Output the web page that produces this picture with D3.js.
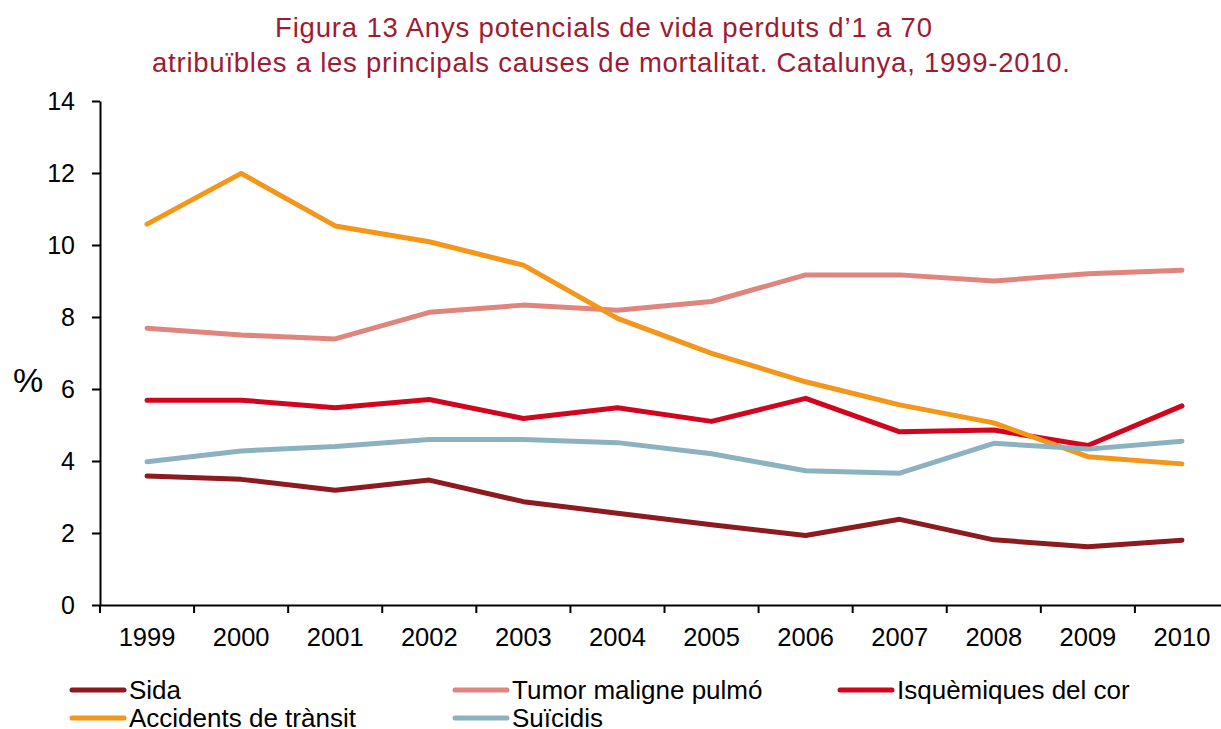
<!DOCTYPE html>
<html>
<head>
<meta charset="utf-8">
<script src="https://cdn.jsdelivr.net/npm/d3@7"></script>
<style>
  body { margin: 0; background: #fff; }
  svg { font-family: "Liberation Sans", Arial, sans-serif; }
</style>
</head>
<body>
<div id="chart"></div>
<script>
// dades
let anys = ["1999","2000","2001","2002","2003","2004","2005","2006","2007","2008","2009","2010"];
let sida      = [3.58, 3.49, 3.19, 3.47, 2.87, 2.55, 2.23, 1.93, 2.38, 1.81, 1.62, 1.80];
let tumor     = [7.69, 7.50, 7.39, 8.13, 8.33, 8.19, 8.43, 9.17, 9.17, 9.00, 9.20, 9.30];
let isquem    = [5.69, 5.69, 5.48, 5.71, 5.18, 5.48, 5.10, 5.74, 4.81, 4.86, 4.43, 5.53];
let accidents = [10.58, 11.99, 10.53, 10.09, 9.44, 7.96, 6.99, 6.20, 5.56, 5.06, 4.12, 3.92];
let suicidis  = [3.98, 4.28, 4.40, 4.60, 4.60, 4.51, 4.20, 3.73, 3.66, 4.49, 4.33, 4.55];
let yTicks = [0, 2, 4, 6, 8, 10, 12, 14];

let series = [
    {nom:"Sida",                  valors:sida,      color:"#8C1A1E"},
    {nom:"Tumor maligne pulmó",   valors:tumor,     color:"#E0857D"},
    {nom:"Isquèmiques del cor",   valors:isquem,    color:"#D2051F"},
    {nom:"Accidents de trànsit",  valors:accidents, color:"#F39619"},
    {nom:"Suïcidis",              valors:suicidis,  color:"#8CB2C0"}
];

let larg = 1221;
let alt = 729;

let canvas = d3.select("#chart")
                .append("svg")
                .attr("width", larg)
                .attr("height", alt);

// titol
let titol = canvas.append("g")
                .attr("fill", "#9E1B32")
                .style("font-size", "27.5px");
titol.append("text").attr("x", 275).attr("y", 37)
        .attr("textLength", 657).attr("lengthAdjust", "spacing")
        .text("Figura 13 Anys potencials de vida perduts d’1 a 70");
titol.append("text").attr("x", 152).attr("y", 72)
        .attr("textLength", 918).attr("lengthAdjust", "spacing")
        .text("atribuïbles a les principals causes de mortalitat. Catalunya, 1999-2010.");

var escX = d3.scaleBand()
                .domain(anys)
                .range([100, 1229]);

var escY = d3.scaleLinear()
                .domain([0, 14])
                .range([605, 101]);

// eix Y
canvas.append("g")
        .attr("transform", "translate(100,0)")
        .call(d3.axisLeft(escY).tickValues(yTicks).tickSize(8).tickPadding(17).tickSizeOuter(0))
        .call(g => g.selectAll("text").style("font-size", "25px").attr("fill", "#000"))
        .call(g => g.selectAll("line,path").attr("stroke", "#000").attr("stroke-width", 2));

// eix X
let eixX = canvas.append("g")
        .attr("transform", "translate(0,605)")
        .call(d3.axisBottom(escX).tickSize(0).tickPadding(23).tickSizeOuter(0))
        .call(g => g.selectAll("text").style("font-size", "25.5px").attr("fill", "#000"))
        .call(g => g.select("path").attr("stroke", "#000").attr("stroke-width", 2));

// marques entre categories
eixX.selectAll(".sep")
        .data(anys)
        .enter()
        .append("line")
        .attr("x1", d => escX(d))
        .attr("x2", d => escX(d))
        .attr("y1", 0)
        .attr("y2", 8)
        .attr("stroke", "#000")
        .attr("stroke-width", 2);

canvas.append("text")
        .attr("x", 28)
        .attr("y", 392)
        .attr("text-anchor", "middle")
        .style("font-size", "34px")
        .text("%");

let linia = d3.line()
            .x((d, i) => escX(anys[i]) + escX.bandwidth() / 2)
            .y(d => escY(d));

canvas.selectAll(".serie")
        .data(series)
        .enter()
        .append("path")
        .attr("class", "serie")
        .attr("d", d => linia(d.valors))
        .attr("fill", "none")
        .attr("stroke", d => d.color)
        .attr("stroke-width", 5)
        .attr("stroke-linejoin", "round")
        .attr("stroke-linecap", "round");

// llegenda
let posLleg = [[70, 690], [453, 690], [838, 690], [70, 718], [453, 718]];
let lleg = canvas.selectAll(".lleg")
        .data(series)
        .enter()
        .append("g")
        .attr("transform", (d, i) => "translate(" + posLleg[i][0] + "," + posLleg[i][1] + ")");
lleg.append("line")
        .attr("x1", 2).attr("x2", 54)
        .attr("stroke", d => d.color)
        .attr("stroke-width", 5)
        .attr("stroke-linecap", "round");
lleg.append("text")
        .attr("x", 59)
        .attr("y", 8.5)
        .style("font-size", "26px")
        .text(d => d.nom);
</script>
</body>
</html>
